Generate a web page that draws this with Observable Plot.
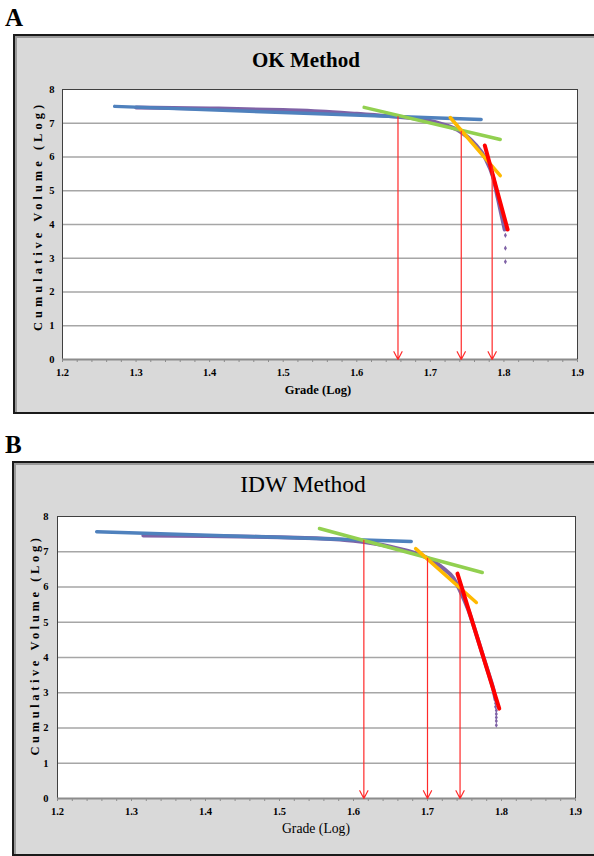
<!DOCTYPE html>
<html><head><meta charset="utf-8">
<script src="https://cdn.jsdelivr.net/npm/d3@7"></script>
<script src="https://cdn.jsdelivr.net/npm/@observablehq/plot@0.6"></script>
<style>
body{margin:0;background:#fff;}
#page{position:relative;width:594px;height:856px;overflow:hidden;font-family:"Liberation Serif","Times New Roman",serif;color:#000;}
.letter{position:absolute;font-weight:bold;font-size:25px;line-height:1;}
.frame{position:absolute;background:#d9d9d9;border:2px solid #1a1a1a;box-sizing:border-box;box-shadow:inset 2px 2px 0 #9a9a9a;}
.txt{position:absolute;transform:translate(-50%,-50%);white-space:nowrap;line-height:1;}
.ylab{position:absolute;transform:translate(-50%,-50%) rotate(-90deg);white-space:nowrap;line-height:1;}
.chart{position:absolute;}
</style></head>
<body>
<div id="page">
  <div class="letter" style="left:5px;top:5px;">A</div>
  <div class="frame" style="left:13px;top:34px;width:590px;height:380px;"></div>
  <div class="txt" style="left:306px;top:60px;font-size:21px;font-weight:bold;">OK Method</div>
  <div class="ylab" style="left:38px;top:216px;font-size:12.5px;font-weight:bold;letter-spacing:4px;">Cumulative Volume (Log)</div>
  <div class="txt" style="left:318px;top:390px;font-size:12.5px;font-weight:bold;">Grade (Log)</div>
  <div id="chartA" class="chart" style="left:15px;top:36px;"></div>

  <div class="letter" style="left:5px;top:432px;">B</div>
  <div class="frame" style="left:12px;top:461px;width:590px;height:395px;"></div>
  <div class="txt" style="left:303px;top:485px;font-size:23.5px;">IDW Method</div>
  <div class="ylab" style="left:35px;top:645px;font-size:12.5px;font-weight:bold;letter-spacing:3.6px;">Cumulative Volume (Log)</div>
  <div class="txt" style="left:316px;top:829px;font-size:13.7px;">Grade (Log)</div>
  <div id="chartB" class="chart" style="left:14px;top:463px;"></div>
</div>
<script>
// ---- shared ticks ----
const xTicks = [1.2, 1.3, 1.4, 1.5, 1.6, 1.7, 1.8, 1.9];
const xMinorTicks = [1.2,1.22,1.24,1.26,1.28,1.3,1.32,1.34,1.36,1.38,1.4,1.42,1.44,1.46,1.48,1.5,1.52,1.54,1.56,1.58,1.6,1.62,1.64,1.66,1.68,1.7,1.72,1.74,1.76,1.78,1.8,1.82,1.84,1.86,1.88,1.9];
const yTicks = [0, 1, 2, 3, 4, 5, 6, 7, 8];

// ---- A: OK method ----
const okCurve = [[1.30,7.47],[1.40,7.44],[1.50,7.39],[1.55,7.35],[1.60,7.28],[1.65,7.20],[1.70,7.07],[1.72,6.95],[1.74,6.76],[1.76,6.40],[1.775,5.95],[1.785,5.42],[1.792,4.75],[1.798,4.15],[1.801,3.85]];
const okTail = [[1.802,3.68],[1.802,3.30],[1.802,2.90]];
const okBlue = [[1.271,7.50],[1.769,7.11]];
const okGreen = [[1.610,7.47],[1.795,6.52]];
const okOrange = [[1.727,7.17],[1.795,5.45]];
const okRed = [[1.774,6.34],[1.805,3.85]];
const okBreakGrade = [1.656, 1.742, 1.784];
const okBreakTop = [7.20, 6.76, 5.75];

// ---- B: IDW method ----
const idwCurve = [[1.316,7.46],[1.40,7.45],[1.50,7.41],[1.55,7.38],[1.60,7.31],[1.65,7.14],[1.70,6.82],[1.72,6.55],[1.735,6.25],[1.745,5.85],[1.755,5.36],[1.765,4.72],[1.775,4.05],[1.783,3.52],[1.789,3.10],[1.792,2.80]];
const idwTail = [[1.792,2.70],[1.792,2.60],[1.793,2.50],[1.793,2.40],[1.793,2.30],[1.793,2.20],[1.793,2.08]];
const idwBlue = [[1.253,7.57],[1.678,7.29]];
const idwGreen = [[1.554,7.66],[1.774,6.41]];
const idwOrange = [[1.684,7.09],[1.766,5.56]];
const idwRed = [[1.7405,6.38],[1.797,2.55]];
const idwBreakGrade = [1.614, 1.700, 1.744];
const idwBreakTop = [7.32, 6.81, 5.95];

const COL = {purple:"#7f62a6", blue:"#4f81bd", green:"#92d050", orange:"#ffb900", red:"#ff0000"};

function chart(o) {
  const arrows = o.breakGrade.map((g, i) => ({g, top: o.breakTop[i]}));
  return Plot.plot({
    width: o.width, height: o.height,
    marginLeft: o.ml, marginRight: o.mr, marginTop: o.mt, marginBottom: o.mb,
    x: {domain: [1.2, 1.9]},
    y: {domain: [0, 8]},
    style: {background: "transparent", fontFamily: "'Liberation Serif', serif", fontSize: "10.5px", fontWeight: "bold", color: "#000", overflow: "visible"},
    marks: [
      Plot.frame({fill: "white"}),
      Plot.ruleY(yTicks.filter(d => d > 0 && d < 8), {stroke: "#a6a6a6", strokeWidth: 1.3}),
      Plot.frame({stroke: "#404040", strokeWidth: 1}),
      Plot.axisX(xMinorTicks, {tickSize: 3, tickFormat: () => "", stroke: "#8c8c8c", label: null}),
      Plot.ruleY([0], {stroke: "#8c8c8c", strokeWidth: 2.2}),
      Plot.axisX(xTicks, {tickSize: 0, tickPadding: 9, tickFormat: d => d.toFixed(1), label: null, fill: "#000"}),
      Plot.axisY(yTicks, {tickSize: 0, tickPadding: o.ypad, tickFormat: d => String(d), label: null, fill: "#000"}),
      Plot.line(o.curve, {x: d => d[0], y: d => d[1], stroke: COL.purple, strokeWidth: 4, curve: "monotone-x"}),
      Plot.dot(o.tail, {x: d => d[0], y: d => d[1], symbol: "diamond", r: 1.6, fill: COL.purple, stroke: "none"}),
      Plot.line(o.blue, {x: d => d[0], y: d => d[1], stroke: COL.blue, strokeWidth: 3.5}),
      Plot.line(o.green, {x: d => d[0], y: d => d[1], stroke: COL.green, strokeWidth: 3.5}),
      Plot.line(o.orange, {x: d => d[0], y: d => d[1], stroke: COL.orange, strokeWidth: 3.5}),
      Plot.line(o.red, {x: d => d[0], y: d => d[1], stroke: COL.red, strokeWidth: 4}),
      Plot.arrow(arrows, {x1: "g", y1: "top", x2: "g", y2: 0, stroke: "#ff2a2a", strokeWidth: 1.2, headLength: 11, headAngle: 55})
    ]
  });
}

document.getElementById("chartA").append(chart({
  width: 577, height: 375, ml: 47, mr: 15, mt: 53, mb: 52, ypad: 8,
  curve: okCurve, tail: okTail, blue: okBlue, green: okGreen, orange: okOrange, red: okRed,
  breakGrade: okBreakGrade, breakTop: okBreakTop
}));
document.getElementById("chartB").append(chart({
  width: 578, height: 391, ml: 43, mr: 17, mt: 53, mb: 56, ypad: 9,
  curve: idwCurve, tail: idwTail, blue: idwBlue, green: idwGreen, orange: idwOrange, red: idwRed,
  breakGrade: idwBreakGrade, breakTop: idwBreakTop
}));
</script>
</body></html>
